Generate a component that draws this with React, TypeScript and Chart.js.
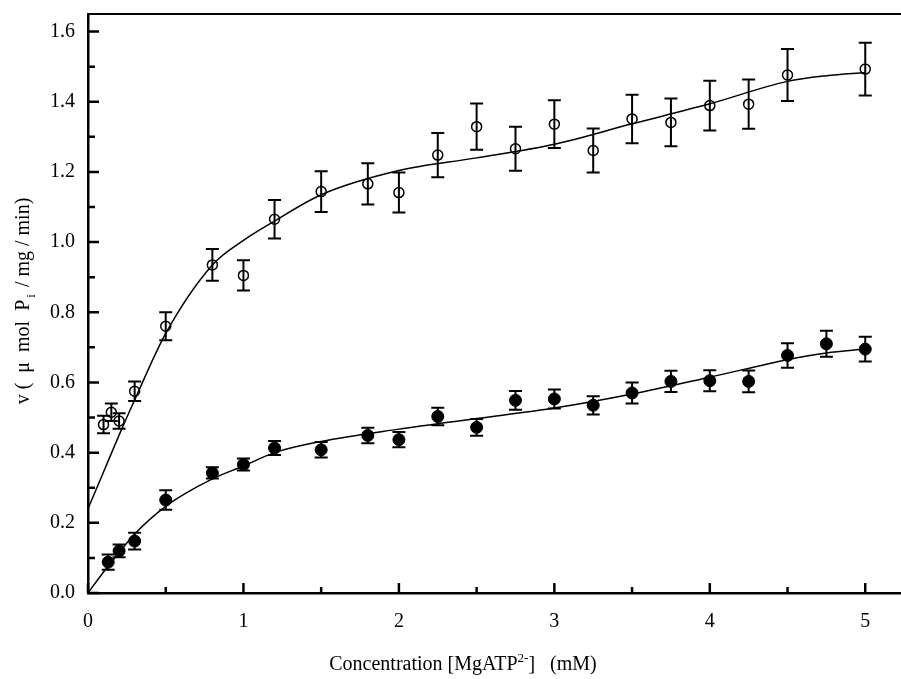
import React, { useEffect, useRef } from "react";
import { Chart, registerables } from "chart.js";

Chart.register(...registerables);

// ---- Data ----
const openX = [0.1, 0.15, 0.2, 0.3, 0.5, 0.8, 1.0, 1.2, 1.5, 1.8, 2.0, 2.25, 2.5, 2.75, 3.0, 3.25, 3.5, 3.75, 4.0, 4.25, 4.5, 5.0];
const openY = [0.48, 0.515, 0.49, 0.575, 0.76, 0.935, 0.905, 1.065, 1.144, 1.166, 1.141, 1.248, 1.329, 1.266, 1.336, 1.261, 1.351, 1.341, 1.389, 1.393, 1.476, 1.493];
const openErr = [0.025, 0.025, 0.022, 0.028, 0.04, 0.045, 0.043, 0.055, 0.058, 0.059, 0.057, 0.063, 0.066, 0.063, 0.068, 0.063, 0.069, 0.068, 0.071, 0.07, 0.074, 0.075];

const filledX = [0.13, 0.2, 0.3, 0.5, 0.8, 1.0, 1.2, 1.5, 1.8, 2.0, 2.25, 2.5, 2.75, 3.0, 3.25, 3.5, 3.75, 4.0, 4.25, 4.5, 4.75, 5.0];
const filledY = [0.088, 0.12, 0.148, 0.265, 0.342, 0.366, 0.413, 0.408, 0.449, 0.437, 0.503, 0.472, 0.549, 0.553, 0.535, 0.57, 0.603, 0.605, 0.603, 0.677, 0.71, 0.695];
const filledErr = [0.022, 0.018, 0.024, 0.028, 0.016, 0.017, 0.02, 0.022, 0.022, 0.022, 0.025, 0.024, 0.027, 0.027, 0.026, 0.03, 0.03, 0.03, 0.031, 0.035, 0.037, 0.035];

const fitUpperX = [0, 0.1, 0.2, 0.3, 0.5, 0.8, 1.0, 1.2, 1.5, 2.0, 2.5, 3.0, 3.5, 4.0, 4.5, 4.75, 5.0];
const fitUpperY = [0.24, 0.345, 0.45, 0.55, 0.74, 0.935, 1.005, 1.06, 1.135, 1.204, 1.24, 1.279, 1.337, 1.394, 1.458, 1.474, 1.483];

const fitLowerX = [0, 0.1, 0.2, 0.3, 0.5, 0.8, 1.0, 1.2, 1.5, 2.0, 2.5, 3.0, 3.5, 4.0, 4.5, 4.75, 5.0];
const fitLowerY = [0, 0.06, 0.115, 0.168, 0.247, 0.325, 0.362, 0.4, 0.432, 0.467, 0.497, 0.527, 0.567, 0.615, 0.665, 0.684, 0.695];

const xTicks = [0, 1, 2, 3, 4, 5];
const xMinorTicks = [0.5, 1.5, 2.5, 3.5, 4.5];
const yTicks = [0, 0.2, 0.4, 0.6, 0.8, 1.0, 1.2, 1.4, 1.6];
const yMinorTicks = [0.1, 0.3, 0.5, 0.7, 0.9, 1.1, 1.3, 1.5];

const X_MIN = 0;
const X_MAX = 5.23;
const Y_MIN = 0;
const Y_MAX = 1.65;

const FONT = "'Liberation Serif', 'Times New Roman', serif";

const toPts = (xs: number[], ys: number[]) => xs.map((x, i) => ({ x, y: ys[i] }));

const zeroPad = (scale: any) => {
  scale.paddingTop = 0;
  scale.paddingBottom = 0;
  scale.paddingLeft = 0;
  scale.paddingRight = 0;
};

const decorPlugin = {
  id: "decor",
  beforeDatasetsDraw(chart: any) {
    const ctx = chart.ctx;
    const xs = chart.scales.x;
    const ys = chart.scales.y;
    ctx.save();
    ctx.strokeStyle = "#000";
    ctx.lineWidth = 2;
    const drawBars = (X: number[], Y: number[], E: number[]) => {
      X.forEach((x, i) => {
        const px = xs.getPixelForValue(x);
        const top = ys.getPixelForValue(Y[i] + E[i]);
        const bot = ys.getPixelForValue(Y[i] - E[i]);
        ctx.beginPath();
        ctx.moveTo(px, top);
        ctx.lineTo(px, bot);
        ctx.moveTo(px - 6.5, top);
        ctx.lineTo(px + 6.5, top);
        ctx.moveTo(px - 6.5, bot);
        ctx.lineTo(px + 6.5, bot);
        ctx.stroke();
      });
    };
    drawBars(openX, openY, openErr);
    drawBars(filledX, filledY, filledErr);
    ctx.restore();
  },
  afterDraw(chart: any) {
    const ctx = chart.ctx;
    const xs = chart.scales.x;
    const ys = chart.scales.y;
    const area = chart.chartArea;
    ctx.save();
    ctx.strokeStyle = "#000";
    // top border
    ctx.lineWidth = 2;
    ctx.beginPath();
    ctx.moveTo(area.left, area.top);
    ctx.lineTo(area.right, area.top);
    ctx.stroke();
    // inward ticks
    ctx.lineWidth = 2.5;
    ctx.beginPath();
    yTicks.forEach((v) => {
      const py = ys.getPixelForValue(v);
      ctx.moveTo(area.left, py);
      ctx.lineTo(area.left + 11, py);
    });
    yMinorTicks.forEach((v) => {
      const py = ys.getPixelForValue(v);
      ctx.moveTo(area.left, py);
      ctx.lineTo(area.left + 7, py);
    });
    xTicks.forEach((v) => {
      const px = xs.getPixelForValue(v);
      ctx.moveTo(px, area.bottom);
      ctx.lineTo(px, area.bottom - 10);
    });
    xMinorTicks.forEach((v) => {
      const px = xs.getPixelForValue(v);
      ctx.moveTo(px, area.bottom);
      ctx.lineTo(px, area.bottom - 6);
    });
    ctx.stroke();

    // x title with superscript
    ctx.fillStyle = "#000";
    ctx.textBaseline = "alphabetic";
    const big = `20px ${FONT}`;
    const small = `13px ${FONT}`;
    const p1 = "Concentration [MgATP";
    const sup = "2-";
    const p2 = "]   (mM)";
    ctx.font = big;
    const w1 = ctx.measureText(p1).width;
    const w3 = ctx.measureText(p2).width;
    ctx.font = small;
    const w2 = ctx.measureText(sup).width;
    const total = w1 + w2 + w3;
    const cx = 463;
    const by = 670;
    const x0 = cx - total / 2;
    ctx.textAlign = "left";
    ctx.font = big;
    ctx.fillText(p1, x0, by);
    ctx.font = small;
    ctx.fillText(sup, x0 + w1, by - 8);
    ctx.font = big;
    ctx.fillText(p2, x0 + w1 + w2, by);

    // y title with subscript (rotated)
    const q1 = "v (  \u03bc  mol  P";
    const sub = "i";
    const q2 = " / mg / min)";
    ctx.font = big;
    const v1 = ctx.measureText(q1).width;
    const v3 = ctx.measureText(q2).width;
    ctx.font = small;
    const v2 = ctx.measureText(sub).width + 4;
    const ytot = v1 + v2 + v3;
    ctx.translate(29, 301);
    ctx.rotate(-Math.PI / 2);
    const s0 = -ytot / 2;
    ctx.font = big;
    ctx.fillText(q1, s0, 0);
    ctx.font = small;
    ctx.fillText(sub, s0 + v1 + 2, 6);
    ctx.font = big;
    ctx.fillText(q2, s0 + v1 + v2, 0);
    ctx.restore();
  },
};

export default function App() {
  const ref = useRef<HTMLCanvasElement | null>(null);
  useEffect(() => {
    if (!ref.current) return;
    const chart = new Chart(ref.current, {
      type: "scatter",
      data: {
        datasets: [
          {
            type: "line",
            data: toPts(fitUpperX, fitUpperY),
            borderColor: "#000",
            borderWidth: 1.5,
            pointRadius: 0,
            cubicInterpolationMode: "monotone",
            fill: false,
          } as any,
          {
            type: "line",
            data: toPts(fitLowerX, fitLowerY),
            borderColor: "#000",
            borderWidth: 1.5,
            pointRadius: 0,
            cubicInterpolationMode: "monotone",
            fill: false,
          } as any,
          {
            data: toPts(openX, openY),
            pointRadius: 5,
            pointBorderWidth: 1.5,
            pointBorderColor: "#000",
            pointBackgroundColor: "rgba(255,255,255,0)",
            showLine: false,
          },
          {
            data: toPts(filledX, filledY),
            pointRadius: 6,
            pointBorderWidth: 1,
            pointBorderColor: "#000",
            pointBackgroundColor: "#000",
            showLine: false,
          },
        ],
      },
      options: {
        animation: false,
        responsive: false,
        maintainAspectRatio: false,
        layout: { autoPadding: false, padding: { top: 14, right: 0, left: 0, bottom: 0 } },
        plugins: {
          legend: { display: false },
          tooltip: { enabled: false },
          title: { display: false },
        },
        scales: {
          x: {
            type: "linear",
            min: X_MIN,
            max: X_MAX,
            grid: { display: false, drawTicks: false },
            border: { display: true, color: "#000", width: 2.5 },
            ticks: {
              color: "#000",
              font: { family: FONT, size: 20 },
              padding: 17,
              callback: (v: any) => String(v),
            },
            afterBuildTicks: (scale: any) => {
              scale.ticks = xTicks.map((v) => ({ value: v }));
            },
            afterFit: (scale: any) => {
              scale.height = 679 - 593;
              zeroPad(scale);
            },
          },
          y: {
            type: "linear",
            min: Y_MIN,
            max: Y_MAX,
            grid: { display: false, drawTicks: false },
            border: { display: true, color: "#000", width: 2.5 },
            ticks: {
              color: "#000",
              font: { family: FONT, size: 20 },
              padding: 13,
              callback: (v: any) => Number(v).toFixed(1),
            },
            afterBuildTicks: (scale: any) => {
              scale.ticks = yTicks.map((v) => ({ value: v }));
            },
            afterFit: (scale: any) => {
              scale.width = 88;
              zeroPad(scale);
            },
          },
        },
      },
      plugins: [decorPlugin],
    });
    return () => chart.destroy();
  }, []);
  return (
    <div style={{ position: "fixed", left: 0, top: 0, width: 901, height: 679, background: "#fff" }}>
      <canvas ref={ref} width={901} height={679} style={{ width: 901, height: 679, display: "block" }} />
    </div>
  );
}
